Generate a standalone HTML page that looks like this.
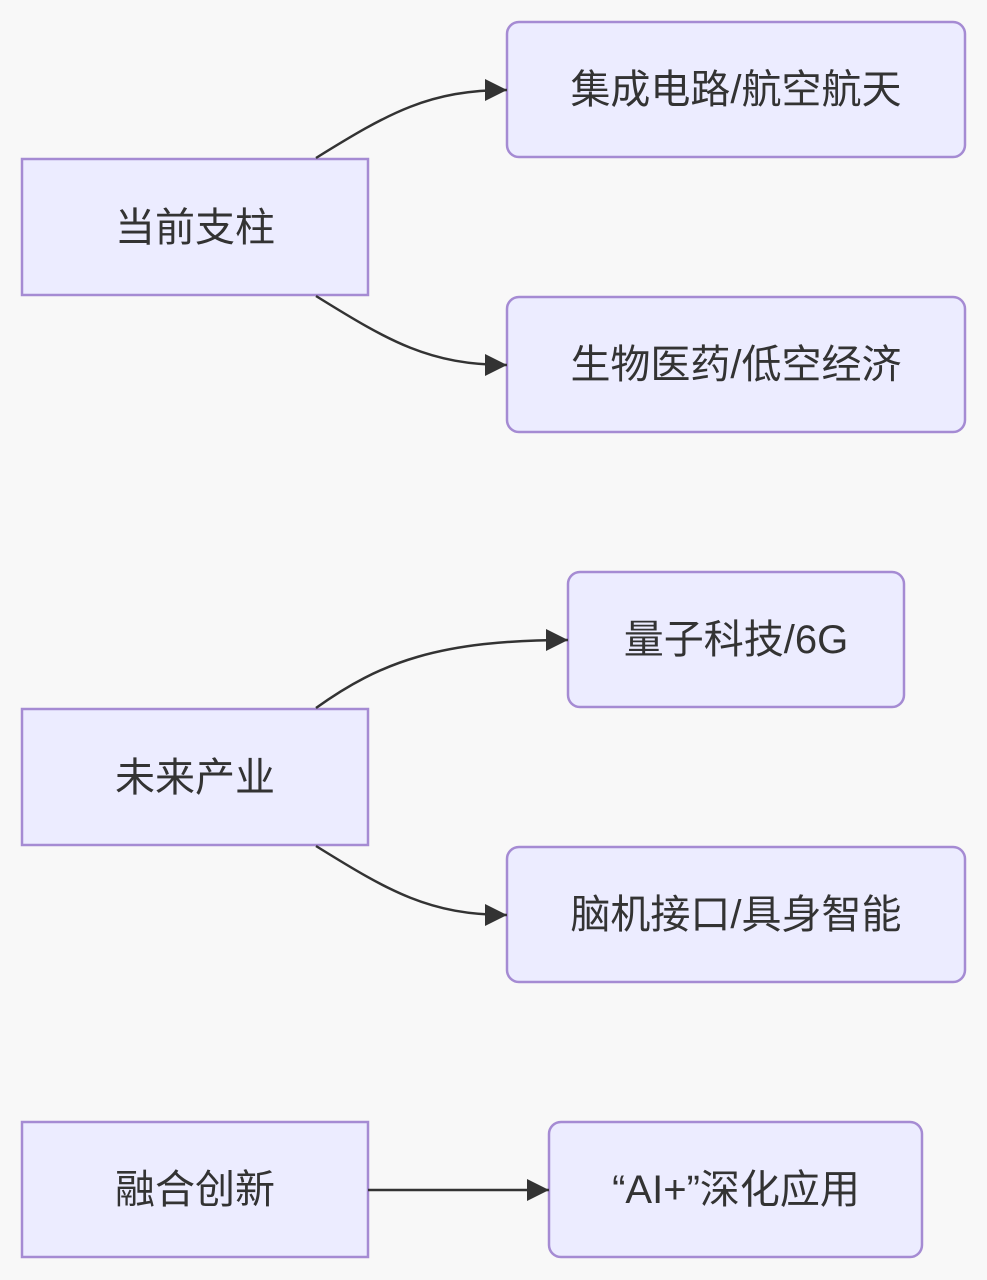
<!DOCTYPE html>
<html><head><meta charset="utf-8"><style>
html,body{margin:0;padding:0;background:#f8f8f8;}
svg{display:block}
text{font-family:"Liberation Sans","Noto Sans CJK SC",sans-serif;font-size:40px;fill:#333;text-anchor:middle;dominant-baseline:central}
</style></head><body>
<svg width="987" height="1280" viewBox="0 0 987 1280" xmlns="http://www.w3.org/2000/svg">
<defs><marker id="a" viewBox="0 0 10 10" refX="9" refY="5" markerWidth="8" markerHeight="8" markerUnits="userSpaceOnUse" orient="auto"><path d="M0,0L10,5L0,10z" fill="#333"/></marker>
<marker id="b" viewBox="0 0 10 10" refX="10" refY="5" markerWidth="24" markerHeight="22" markerUnits="userSpaceOnUse" orient="auto"><path d="M0,0L10,5L0,10z" fill="#333"/></marker></defs>
<rect width="987" height="1280" fill="#f8f8f8"/>
<g fill="#ECECFF" stroke="#a58bd3" stroke-width="2.5">
<rect x="22" y="159" width="346" height="136"/>
<rect x="22" y="709" width="346" height="136"/>
<rect x="22" y="1122" width="346" height="135"/>
<rect x="507" y="22" width="458" height="135" rx="12"/>
<rect x="507" y="297" width="458" height="135" rx="12"/>
<rect x="568" y="572" width="336" height="135" rx="12"/>
<rect x="507" y="847" width="458" height="135" rx="12"/>
<rect x="549" y="1122" width="373" height="135" rx="12"/>
</g>
<g fill="none" stroke="#333" stroke-width="2.5">
<path d="M316,158 C390,112 430,90 507,90" marker-end="url(#b)"/>
<path d="M316,296 C390,342 430,365 507,365" marker-end="url(#b)"/>
<path d="M316,708 C380,662 440,640 568,640" marker-end="url(#b)"/>
<path d="M316,846 C390,892 430,915 507,915" marker-end="url(#b)"/>
<path d="M368,1190 L549,1190" marker-end="url(#b)"/>
</g>
<text x="195" y="228">当前支柱</text>
<text x="195" y="778">未来产业</text>
<text x="195" y="1190">融合创新</text>
<text x="736" y="90">集成电路/航空航天</text>
<text x="736" y="365">生物医药/低空经济</text>
<text x="736" y="640">量子科技/6G</text>
<text x="736" y="915">脑机接口/具身智能</text>
<text x="736" y="1190">“AI+”深化应用</text>
</svg>
</body></html>
